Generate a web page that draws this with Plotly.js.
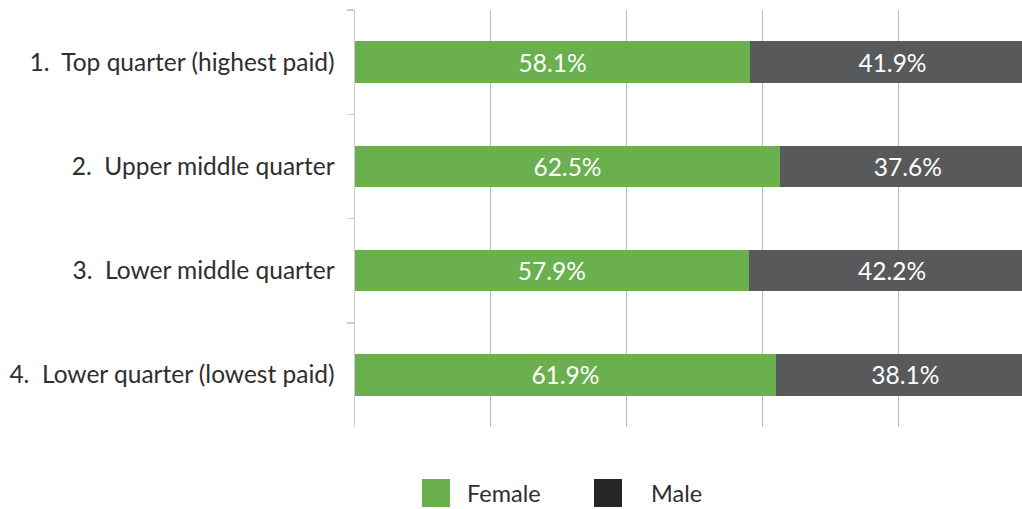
<!DOCTYPE html>
<html>
<head>
<meta charset="utf-8">
<script src="https://cdn.plot.ly/plotly-3.0.1.min.js"></script>
<style>html,body{margin:0;padding:0;background:#fff;}#chart{width:1022px;height:509px;}</style>
</head>
<body>
<div id="chart"></div>
<script>
const categories = ["1.  Top quarter (highest paid)", "2.  Upper middle quarter", "3.  Lower middle quarter", "4.  Lower quarter (lowest paid)"];
const female = [58.1, 62.5, 57.9, 61.9];
const male = [41.9, 37.6, 42.2, 38.1];
const seriesNames = ["Female", "Male"];
const barColors = ["#6ab04f", "#58595b"];
const legendColors = ["#6ab04f", "#262626"];

const FONT = "Lato, Open Sans, sans-serif";
const fmt = v => v.toFixed(1) + "%";

const PT = 10, PB = 427, PL = 355, PR = 1022;
const PH = PB - PT, PW = PR - PL;

const traces = [female, male].map((vals, i) => ({
  type: "bar",
  orientation: "h",
  name: seriesNames[i],
  y: categories,
  x: vals,
  text: vals.map(fmt),
  textposition: "inside",
  insidetextanchor: "middle",
  textfont: {color: "#ffffff", size: 24.5, family: FONT},
  marker: {color: barColors[i], line: {width: 0}},
  hoverinfo: "x+name",
  showlegend: false
}));

// legend built from shapes + annotations to match large square swatches
const legX = [422, 594];
const legTextX = [465, 649];
const shapes = [];
const annotations = [];
seriesNames.forEach((n, i) => {
  shapes.push({type: "rect", xref: "paper", yref: "paper",
    x0: (legX[i] - PL) / PW, x1: (legX[i] + 28 - PL) / PW,
    y0: -(479 - PB) / PH, y1: -(507 - PB) / PH,
    fillcolor: legendColors[i], line: {width: 0}});
  annotations.push({xref: "paper", yref: "paper", showarrow: false,
    x: (legTextX[i] - PL) / PW, y: -(493 - PB) / PH,
    xanchor: "left", yanchor: "middle", text: n,
    font: {size: 23.5, color: "#2e2e2e", family: FONT}});
});

const layout = {
  width: 1022, height: 509,
  margin: {l: PL, r: 1022 - PR, t: PT, b: 509 - PB, pad: 0},
  paper_bgcolor: "#ffffff", plot_bgcolor: "#ffffff",
  barmode: "stack",
  bargap: 0.6,
  showlegend: false,
  font: {family: FONT, color: "#2e2e2e"},
  xaxis: {range: [0, 98.1], dtick: 20, showticklabels: false, showgrid: true,
    gridcolor: "#bdbdbd", gridwidth: 1, zeroline: false, showline: false, fixedrange: true},
  yaxis: {autorange: "reversed", type: "category", showline: true, linecolor: "#cccccc", linewidth: 1.5,
    ticks: "outside", tickson: "boundaries", ticklen: 7, tickcolor: "#cccccc", tickwidth: 1.5,
    ticklabelstandoff: 14,
    tickfont: {size: 24.5, color: "#2e2e2e", family: FONT}, showgrid: false, zeroline: false},
  shapes: shapes,
  annotations: annotations
};

Plotly.newPlot("chart", traces, layout, {displayModeBar: false, staticPlot: true});
</script>
</body>
</html>
